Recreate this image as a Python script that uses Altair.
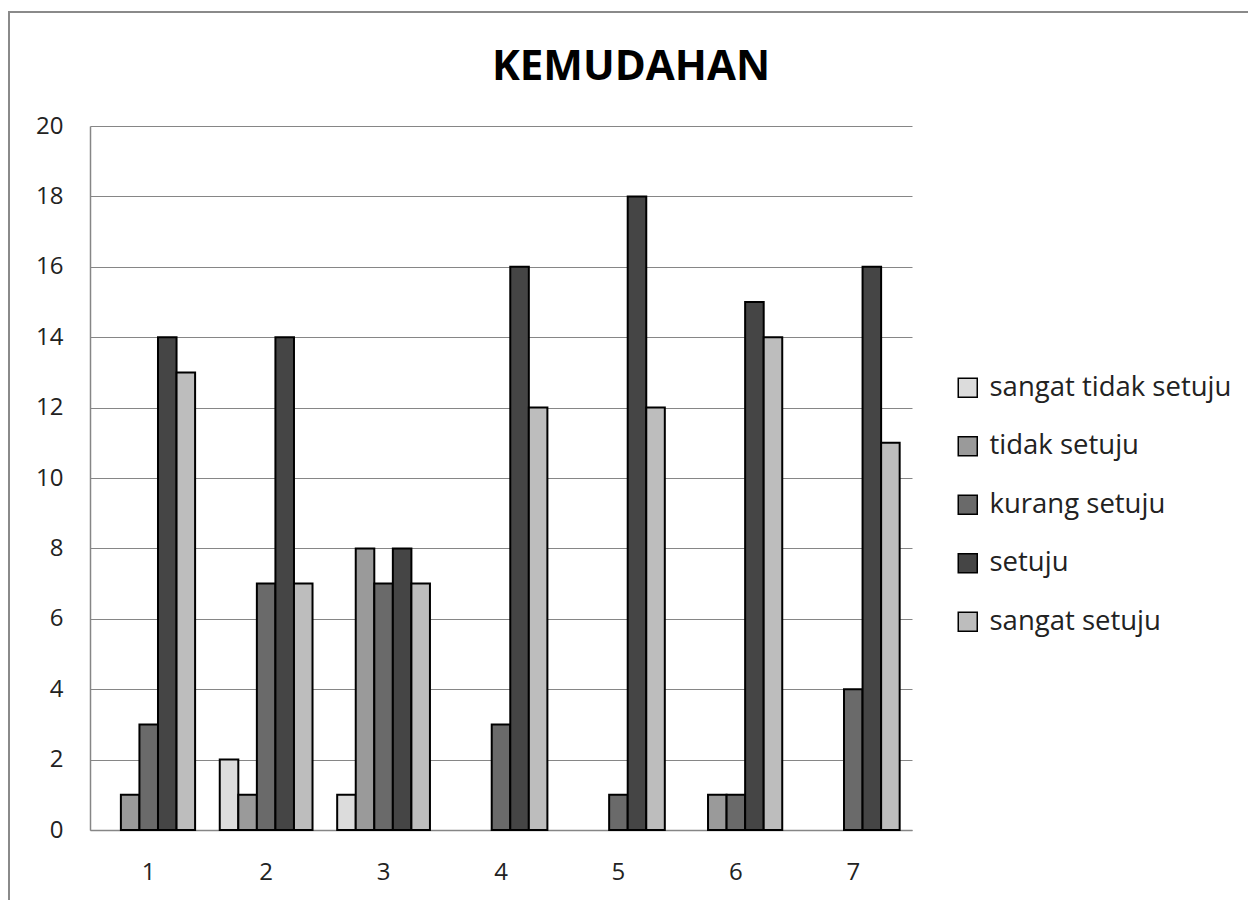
import altair as alt
import pandas as pd

categories = ["1", "2", "3", "4", "5", "6", "7"]
series = ["sangat tidak setuju", "tidak setuju", "kurang setuju", "setuju", "sangat setuju"]
sangat_tidak_setuju = [0, 2, 1, 0, 0, 0, 0]
tidak_setuju = [1, 1, 8, 0, 0, 1, 0]
kurang_setuju = [3, 7, 7, 3, 1, 1, 4]
setuju = [14, 14, 8, 16, 18, 15, 16]
sangat_setuju = [13, 7, 7, 12, 12, 14, 11]
y_ticks = [0, 2, 4, 6, 8, 10, 12, 14, 16, 18, 20]
fills = ["#dcdcdc", "#9a9a9a", "#6a6a6a", "#454545", "#bdbdbd"]

rows = []
for s, vals in zip(series, [sangat_tidak_setuju, tidak_setuju, kurang_setuju, setuju, sangat_setuju]):
    for c, v in zip(categories, vals):
        rows.append({"cat": c, "series": s, "value": v})
df = pd.DataFrame(rows)

FONT = "Open Sans"
W, H = 822, 704

bars = alt.Chart(df).transform_filter("datum.value > 0").mark_bar(
    stroke="black", strokeWidth=2
).encode(
    x=alt.X("cat:N", sort=categories,
            scale=alt.Scale(paddingInner=0.21, paddingOuter=0.105),
            axis=alt.Axis(title=None, labelAngle=0, ticks=False, domainColor="#868686",
                          domainWidth=1.5, labelPadding=30, labelFontSize=24,
                          labelFont=FONT, labelColor="#222")),
    xOffset=alt.XOffset("series:N", sort=series,
                        scale=alt.Scale(domain=series, paddingInner=0, paddingOuter=0)),
    y=alt.Y("value:Q", scale=alt.Scale(domain=[0, 20]),
            axis=alt.Axis(title=None, values=y_ticks, ticks=False, gridColor="#868686",
                          gridWidth=1, domainColor="#868686", domainWidth=1.5,
                          labelPadding=27, labelFontSize=24, labelFont=FONT,
                          labelColor="#222")),
    color=alt.Color("series:N", sort=series,
                    scale=alt.Scale(domain=series, range=fills),
                    legend=alt.Legend(title=None, orient="none", legendX=864, legendY=248,
                                      symbolType="square", symbolSize=361,
                                      symbolStrokeColor="black", symbolStrokeWidth=1.5,
                                      labelFontSize=27.5, labelFont=FONT, labelColor="#222",
                                      labelLimit=400, rowPadding=29.5, labelOffset=8)),
)

border_left = alt.Chart(df).mark_rule(color="#8a8a8a", strokeWidth=2).encode(
    x=alt.value(-81), y=alt.value(-114), y2=alt.value(900))
border_top = alt.Chart(df).mark_rule(color="#8a8a8a", strokeWidth=2).encode(
    x=alt.value(-82), x2=alt.value(1300), y=alt.value(-114))

chart = alt.layer(bars, border_left, border_top).properties(
    width=W, height=H,
    autosize=alt.AutoSizeParams(type="none"),
    padding={"left": 82, "top": 118, "right": 336, "bottom": 70},
    title=alt.TitleParams("KEMUDAHAN", fontSize=42, font=FONT, fontWeight="bold",
                          color="black", anchor="middle", frame="group", dx=130,
                          baseline="alphabetic", offset=-111),
).configure_view(stroke=None)

chart.save("out.html", embed_options={"renderer": "svg", "actions": False})
